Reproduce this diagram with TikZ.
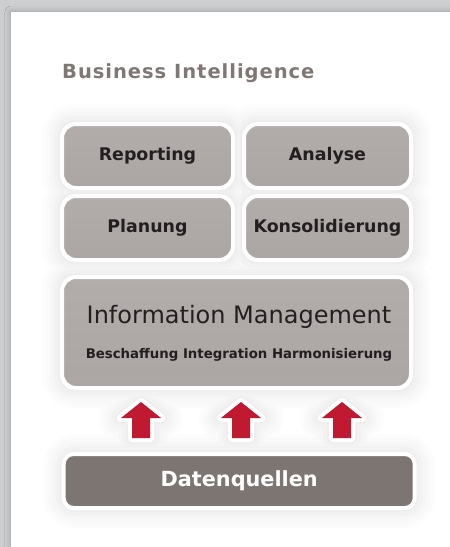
\documentclass[tikz,border=0pt]{standalone}
\usepackage{fontspec}
\setmainfont{DejaVu Sans}
\newfontfamily\titlefont[LetterSpace=5]{DejaVu Sans}
\usetikzlibrary{shadows.blur}
\pgfdeclarelayer{bg}
\pgfdeclarelayer{glowlayer}
\pgfsetlayers{bg,glowlayer,main}
\definecolor{frame}{HTML}{CDCED0}
\definecolor{boxtop}{HTML}{B2ADAA}
\definecolor{boxmid}{HTML}{BBB6B3}
\definecolor{boxbot}{HTML}{ABA6A3}
\definecolor{darkbox}{HTML}{7C7571}
\definecolor{titlegray}{HTML}{7F7773}
\definecolor{txt}{HTML}{231F20}
\definecolor{arrowred}{HTML}{C01A32}
\tikzset{
  graybox/.style={draw=white,line width=4pt,rounded corners=14pt,inner sep=0pt,
    top color=boxtop,middle color=boxmid,bottom color=boxbot,text=txt},
  smalllbl/.style={font=\bfseries\fontsize{17.4}{21}\selectfont},
  darkbox/.style={draw=white,line width=4pt,rounded corners=10pt,inner sep=0pt,
    fill=darkbox,text=white,font=\bfseries\fontsize{20.8}{25}\selectfont},
  arrowoutline/.style={draw=white,fill=white,line width=8pt,line join=round},
  arrowfill/.style={fill=arrowred},
}
\newcommand{\arrowpath}[1]{([xshift=-9pt]#1) -- ++(0,-20) -- ++(-11,0) -- ++(20,-16) -- ++(20,16) -- ++(-11,0) -- ++(0,20) -- cycle}
\newcommand{\glowbox}[3]{% node, distance, colour
  \fill[#3,rounded corners=14pt+#2pt] ([shift={(-#2,#2)}]#1.south west) rectangle ([shift={(#2,-#2)}]#1.north east);}
\begin{document}
\begin{tikzpicture}[x=1pt,y=-1pt]
\useasboundingbox (0,0) rectangle (450,547);
\begin{pgfonlayer}{bg}
\fill[frame] (0,0) rectangle (450,547);
\fill[white,blur shadow={shadow xshift=0pt,shadow yshift=0pt,shadow blur radius=6pt,shadow opacity=25}] (11,12) rectangle (452,549);
\end{pgfonlayer}
% title
\node[anchor=base west,inner sep=0pt,text=titlegray,font=\titlefont\bfseries\fontsize{19.5}{23}\selectfont] (title) at (62,78) {Business Intelligence};
% top boxes
\node[graybox,smalllbl,minimum width=171pt,minimum height=64pt] (rep) at (147.5,156) {Reporting};
\node[graybox,smalllbl,minimum width=167pt,minimum height=64pt] (ana) at (327.5,156) {Analyse};
\node[graybox,smalllbl,minimum width=171pt,minimum height=64pt] (plan) at (147.5,228) {Planung};
\node[graybox,smalllbl,minimum width=167pt,minimum height=64pt] (kons) at (327.5,228) {Konsolidierung};
% information management
\node[graybox,minimum width=349pt,minimum height=111pt] (im) at (236.5,332.5) {};
\node[anchor=base,inner sep=0pt,text=txt,font=\fontsize{24}{28}\selectfont] (imt) at (239,323) {Information Management};
\node[anchor=base,inner sep=0pt,text=txt,font=\bfseries\fontsize{13.3}{16}\selectfont] (ims) at (239,358) {Beschaffung Integration Harmonisierung};
% data sources
\node[darkbox,minimum width=351pt,minimum height=54pt] (dq) at (239.2,481) {Datenquellen};
\coordinate (a1) at (141,438);
\coordinate (a2) at (241,438);
\coordinate (a3) at (342,438);
% soft glow (opaque greys, outer to inner)
\begin{pgfonlayer}{glowlayer}
\foreach \d/\c in {18/252,14/249,10/246,6/242,2/238}{
  \definecolor{gl}{RGB}{\c,\c,\c}
  \foreach \n in {rep,ana,plan,kons,im,dq}{\glowbox{\n}{\d}{gl}}
  \foreach \n in {a1,a2,a3}{\path[fill=gl,draw=gl,line join=round,line width=8pt+2*\d pt] \arrowpath{\n};}
}
\end{pgfonlayer}
% arrows from data sources up to information management
\foreach \n in {a1,a2,a3}{
  \path[arrowoutline] \arrowpath{\n};
  \path[arrowfill] \arrowpath{\n};
}
\end{tikzpicture}
\end{document}
